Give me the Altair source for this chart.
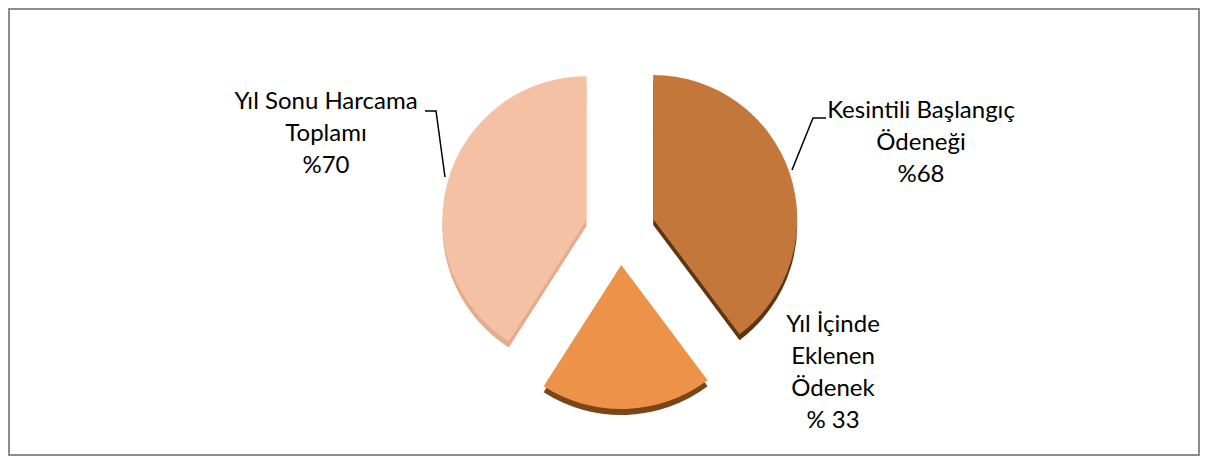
import altair as alt
import pandas as pd

# ---- data ----
categories = ["Kesintili Başlangıç Ödeneği", "Yıl İçinde Eklenen Ödenek", "Yıl Sonu Harcama Toplamı"]
values = [68, 33, 70]
label_lines = [
    ["Kesintili Başlangıç", "Ödeneği", "%68"],
    ["Yıl İçinde", "Eklenen", "Ödenek", "% 33"],
    ["Yıl Sonu Harcama", "Toplamı", "%70"],
]

# ---- style / layout ----
top_colors = ["#C4773A", "#EC9249", "#F4C1A5"]
side_colors = ["#5E3512", "#7A4618", "#E3AC8C"]
W, H = 1190, 446
CX, CY, R, EXPLODE, DEPTH = 611, 221, 144, 35, 6
label_x = [912, 824, 317]
label_y0 = [102, 316, 93]
LINE_H = 32
leader_x = [[817, 804, 783], None, [416, 427, 436]]
leader_y = [[109, 109, 161], None, [102, 102, 168]]
FONT = "Lato"

df = pd.DataFrame({"category": categories, "value": values, "order": range(len(values))})

rows = []
for i, lines in enumerate(label_lines):
    for j, t in enumerate(lines):
        rows.append({"category": categories[i], "text": t,
                     "x": label_x[i], "y": label_y0[i] + j * LINE_H})
lab = pd.DataFrame(rows)

lrows = []
for i in range(len(categories)):
    if leader_x[i] is None:
        continue
    for k, (x, y) in enumerate(zip(leader_x[i], leader_y[i])):
        lrows.append({"category": categories[i], "seq": k, "x": x, "y": y})
lead = pd.DataFrame(lrows)

base = (
    alt.Chart(df)
    .transform_joinaggregate(total="sum(value)")
    .transform_window(cum="sum(value)", sort=[alt.SortField("order")], frame=[None, 0])
    .transform_calculate(
        a0="(datum.cum - datum.value) / datum.total * 2 * PI",
        a1="datum.cum / datum.total * 2 * PI",
    )
    .transform_calculate(mid="(datum.a0 + datum.a1) / 2")
    .transform_calculate(
        cx=f"{CX} + {EXPLODE} * sin(datum.mid)",
        cy=f"{CY} - {EXPLODE} * cos(datum.mid)",
    )
    .transform_calculate(cy2=f"datum.cy + {DEPTH}")
)

side = base.mark_arc(radius=R).encode(
    theta=alt.Theta("a0:Q", scale=None),
    theta2="a1:Q",
    x=alt.X("cx:Q", scale=None),
    y=alt.Y("cy2:Q", scale=None),
    color=alt.Color("category:N", scale=alt.Scale(domain=categories, range=side_colors), legend=None),
)

top = base.mark_arc(radius=R).encode(
    theta=alt.Theta("a0:Q", scale=None),
    theta2="a1:Q",
    x=alt.X("cx:Q", scale=None),
    y=alt.Y("cy:Q", scale=None),
    color=alt.Color("category:N", scale=alt.Scale(domain=categories, range=top_colors), legend=None),
)

leaders = alt.Chart(lead).mark_line(color="#000000", strokeWidth=1.5).encode(
    x=alt.X("x:Q", scale=None),
    y=alt.Y("y:Q", scale=None),
    detail="category:N",
    order="seq:Q",
)

labels = alt.Chart(lab).mark_text(
    font=FONT, fontSize=24, color="#000000", align="center", baseline="middle"
).encode(
    x=alt.X("x:Q", scale=None),
    y=alt.Y("y:Q", scale=None),
    text="text:N",
)

chart = (
    alt.layer(side, top, leaders, labels)
    .resolve_scale(color="independent")
    .properties(width=W, height=H, padding=1, background="#FFFFFF")
    .configure_view(stroke="#8C8C8C", strokeWidth=2)
)

chart.save("out.html", embed_options={"renderer": "svg", "actions": False})
